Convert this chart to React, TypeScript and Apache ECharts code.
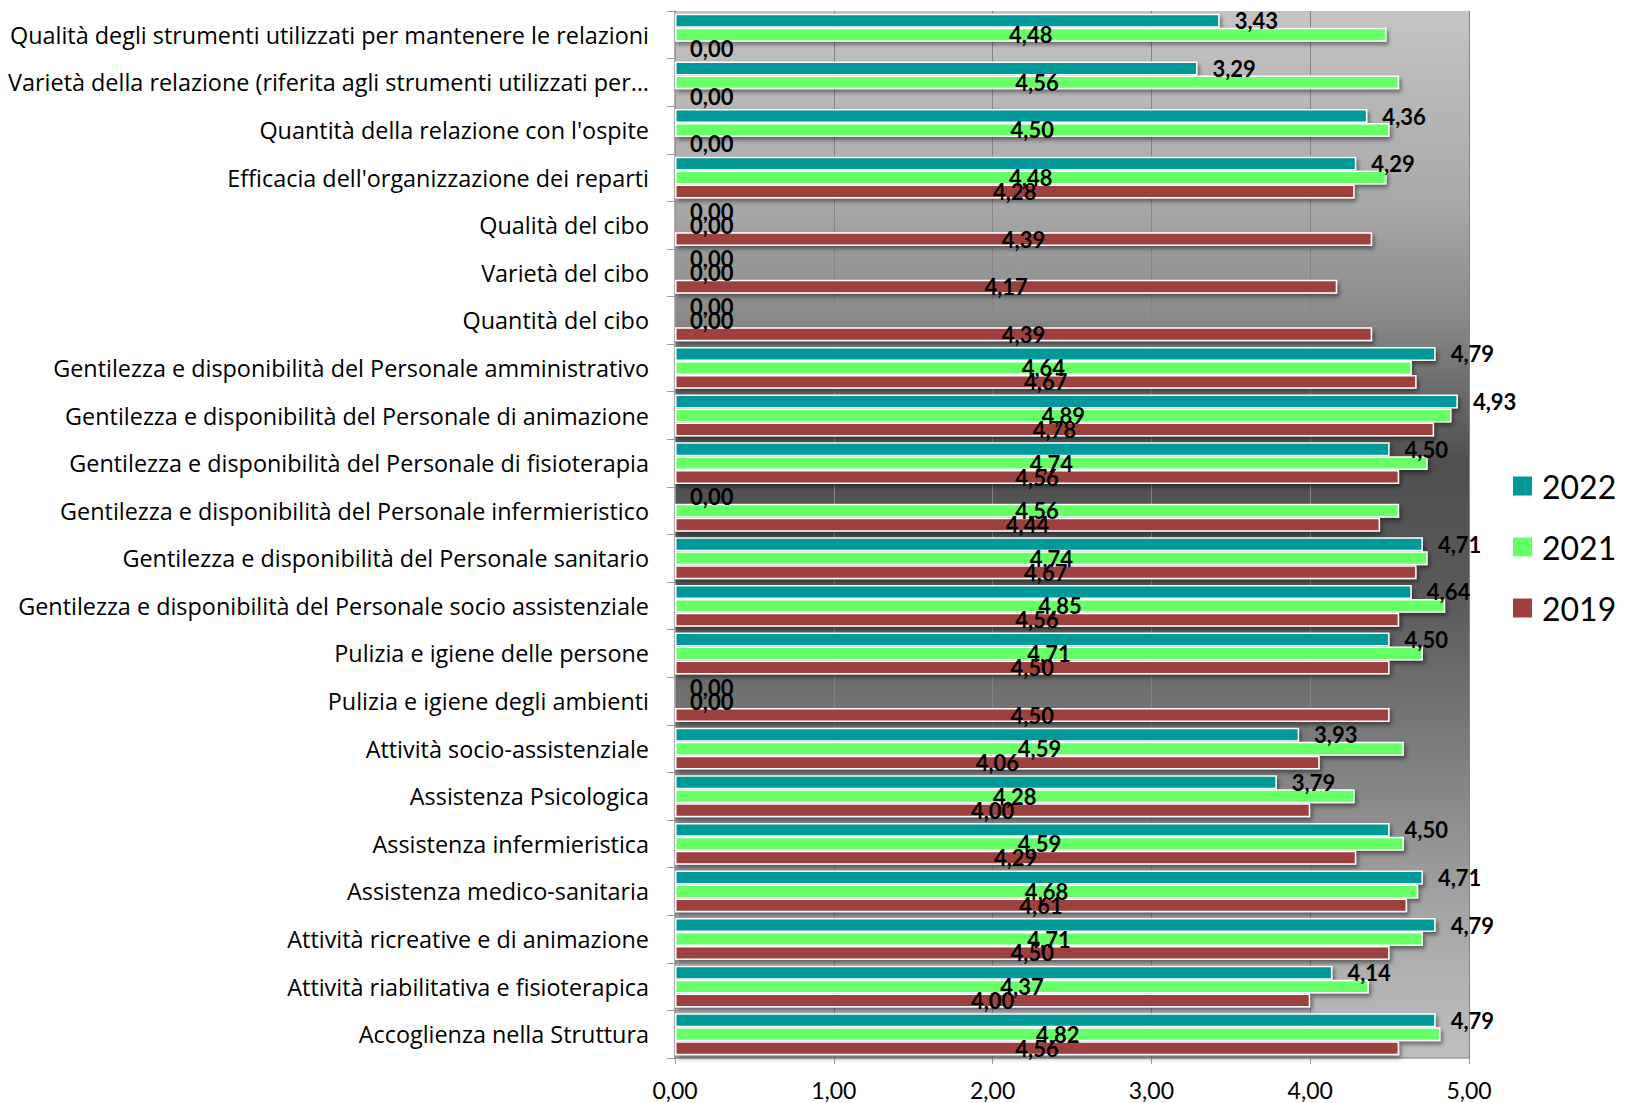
import React, { useEffect, useRef } from "react";
import * as echarts from "echarts";

// Survey items, listed top to bottom
const categories = [
  "Qualità degli strumenti utilizzati per mantenere le relazioni",
  "Varietà della relazione (riferita agli strumenti utilizzati per…",
  "Quantità della relazione con l'ospite",
  "Efficacia dell'organizzazione dei reparti",
  "Qualità del cibo",
  "Varietà del cibo",
  "Quantità del cibo",
  "Gentilezza e disponibilità del Personale amministrativo",
  "Gentilezza e disponibilità del Personale di animazione",
  "Gentilezza e disponibilità del Personale di fisioterapia",
  "Gentilezza e disponibilità del Personale infermieristico",
  "Gentilezza e disponibilità del Personale sanitario",
  "Gentilezza e disponibilità del Personale socio assistenziale",
  "Pulizia e igiene delle persone",
  "Pulizia e igiene degli ambienti",
  "Attività socio-assistenziale",
  "Assistenza Psicologica",
  "Assistenza infermieristica",
  "Assistenza medico-sanitaria",
  "Attività ricreative e di animazione",
  "Attività riabilitativa e fisioterapica",
  "Accoglienza nella Struttura",
];

const years = ["2022", "2021", "2019"];

const values2022 = [3.43, 3.29, 4.36, 4.29, 0, 0, 0, 4.79, 4.93, 4.5, 0, 4.71, 4.64, 4.5, 0, 3.93, 3.79, 4.5, 4.71, 4.79, 4.14, 4.79];
const values2021 = [4.48, 4.56, 4.5, 4.48, 0, 0, 0, 4.64, 4.89, 4.74, 4.56, 4.74, 4.85, 4.71, 0, 4.59, 4.28, 4.59, 4.68, 4.71, 4.37, 4.82];
const values2019 = [0, 0, 0, 4.28, 4.39, 4.17, 4.39, 4.67, 4.78, 4.56, 4.44, 4.67, 4.56, 4.5, 4.5, 4.06, 4.0, 4.29, 4.61, 4.5, 4.0, 4.56];

const xTickLabels = ["0,00", "1,00", "2,00", "3,00", "4,00", "5,00"];

const colors = ["#009999", "#66FF66", "#9E413E"];
const FONT = "Lato";
const CAT_FONT = "Open Sans";

const fmt = (v: number) => v.toFixed(2).replace(".", ",");

export default function App() {
  const ref = useRef<HTMLDivElement>(null);

  useEffect(() => {
    document.body.style.margin = "0";
    const chart = echarts.init(ref.current!, undefined, { renderer: "svg" });

    const labelBase = {
      show: true,
      color: "#000",
      fontFamily: FONT,
      fontWeight: "bold" as const,
      fontSize: 22,
      textBorderWidth: 0,
      formatter: (p: any) => fmt(Number(p.value)),
    };

    // zero bars carry no outline/shadow; their label sits just right of the axis
    const toData = (vals: number[]) =>
      vals.map((v) =>
        v === 0
          ? {
              value: v,
              itemStyle: { borderWidth: 0, shadowBlur: 0, shadowOffsetX: 0, shadowOffsetY: 0, shadowColor: "transparent" },
              label: { position: "insideLeft", distance: 15 },
            }
          : v
      );

    const seriesValues = [values2022, values2021, values2019];

    const series = years.map((year, i) => ({
      name: year,
      type: "bar",
      data: toData(seriesValues[i]),
      barGap: "0%",
      barCategoryGap: "12%",
      itemStyle: {
        color: colors[i],
        borderColor: "#ffffff",
        borderWidth: 1.5,
        shadowColor: "rgba(0,0,0,0.45)",
        shadowBlur: 4,
        shadowOffsetX: 2,
        shadowOffsetY: 3,
      },
      label: {
        ...labelBase,
        position: i === 0 ? "right" : "inside",
        distance: 15,
      },
    }));

    const plotBg = new echarts.graphic.LinearGradient(0, 0, 0, 1, [
      { offset: 0, color: "#c4c4c4" },
      { offset: 0.18, color: "#a9a9a9" },
      { offset: 0.29, color: "#8a8a8a" },
      { offset: 0.43, color: "#4f4f4f" },
      { offset: 0.56, color: "#5a5a5a" },
      { offset: 0.72, color: "#808080" },
      { offset: 0.86, color: "#a5a5a5" },
      { offset: 1, color: "#bfbfbf" },
    ]);

    chart.setOption({
      animation: false,
      backgroundColor: "#ffffff",
      grid: {
        left: 675,
        right: 157,
        top: 11,
        bottom: 45,
        show: true,
        backgroundColor: plotBg,
        borderWidth: 0,
      },
      legend: {
        data: years,
        orient: "vertical",
        left: 1508,
        top: 465,
        itemWidth: 19,
        itemHeight: 19,
        itemGap: 29,
        icon: "rect",
        itemStyle: { borderWidth: 0, shadowBlur: 0, shadowOffsetX: 0, shadowOffsetY: 0 },
        textStyle: { fontFamily: FONT, fontSize: 32, color: "#000", padding: [0, 0, 0, 5] },
      },
      xAxis: {
        type: "value",
        min: 0,
        max: 5,
        interval: 1,
        axisLine: { show: true, lineStyle: { color: "#9a9a9a", width: 1.5 } },
        axisTick: { show: true, length: 6, lineStyle: { color: "#9a9a9a" } },
        splitLine: { show: true, lineStyle: { color: "#858585", width: 1 } },
        axisLabel: {
          fontFamily: FONT,
          fontSize: 23,
          lineHeight: 22,
          color: "#000",
          margin: 21,
          formatter: (v: number) => xTickLabels[Math.round(v)],
        },
      },
      yAxis: {
        type: "category",
        data: categories,
        inverse: true,
        axisLine: { show: true, lineStyle: { color: "#9a9a9a", width: 1.5 } },
        axisTick: { show: true, length: 8, lineStyle: { color: "#9a9a9a" } },
        axisLabel: { fontFamily: CAT_FONT, fontSize: 23.4, color: "#000", margin: 26 },
      },
      series,
    });

    return () => chart.dispose();
  }, []);

  return <div ref={ref} style={{ width: 1626, height: 1103 }} />;
}
